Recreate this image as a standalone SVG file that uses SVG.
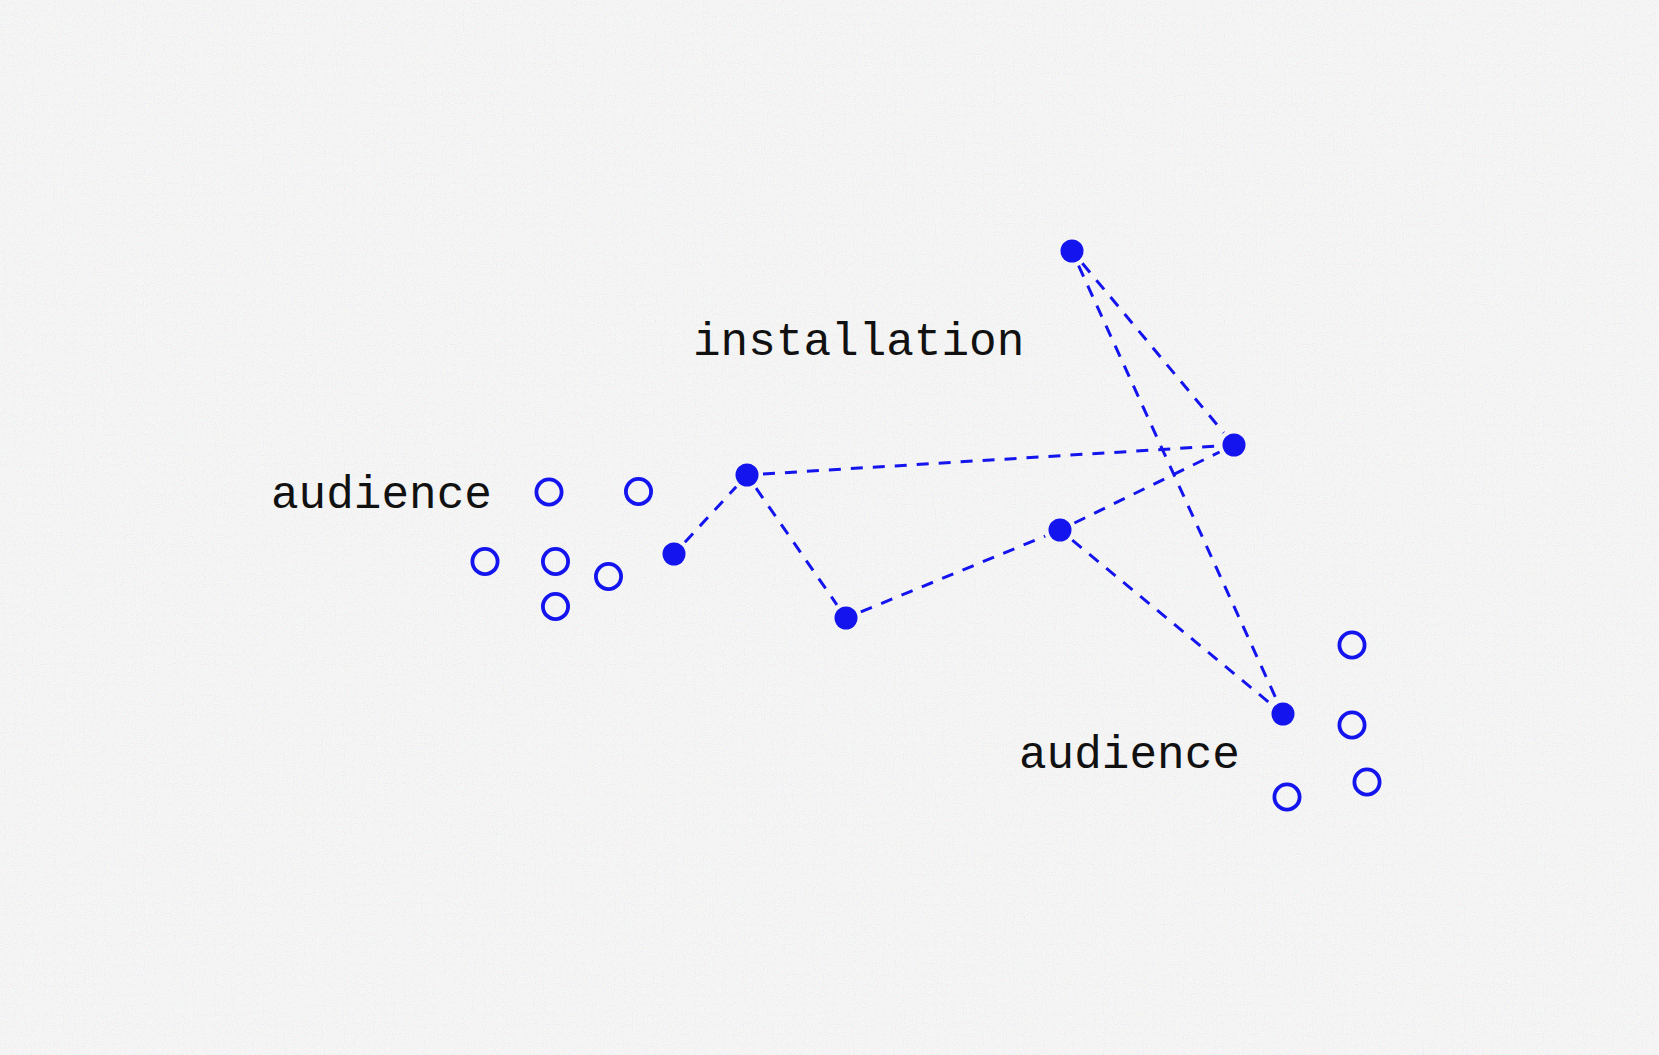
<svg xmlns="http://www.w3.org/2000/svg" width="1659" height="1055" viewBox="0 0 1659 1055">
  <style>
    .bg { fill: #f2f2f2; }
    .lbl { font-family: "Courier New", "Liberation Mono", monospace; font-size: 46px; fill: #111111; }
    .link { stroke: #1414ee; stroke-width: 3; stroke-dasharray: 12 10; fill: none; }
    .inst { fill: #1414ee; }
    .aud { fill: none; stroke: #1414ee; stroke-width: 3.8; }
  </style>
  <defs>
    <filter id="noise" x="0" y="0" width="100%" height="100%">
      <feTurbulence type="fractalNoise" baseFrequency="0.9" numOctaves="1" seed="3" result="t"/>
      <feColorMatrix in="t" type="matrix" values="1 0 0 0 0.45  0 1 0 0 0.45  0 0 1 0 0.45  0 0 0 0 0.35"/>
    </filter>
  </defs>
  <rect class="bg" x="0" y="0" width="1659" height="1055"/>
  <rect x="0" y="0" width="1659" height="1055" filter="url(#noise)"/>

  <g id="connectors">
    <line class="link" x1="684.9" y1="542.3" x2="736.2" y2="486.7"/>
    <line class="link" x1="756.1" y1="488.2" x2="836.9" y2="604.8"/>
    <line class="link" x1="763" y1="474" x2="1218" y2="446"/>
    <line class="link" x1="860.8" y1="611.9" x2="1045.2" y2="536.1"/>
    <line class="link" x1="1074.4" y1="523" x2="1219.6" y2="452"/>
    <line class="link" x1="1072.3" y1="540.2" x2="1270.7" y2="703.8"/>
    <line class="link" x1="1082.3" y1="263.3" x2="1223.7" y2="432.7"/>
    <line class="link" x1="1078.6" y1="265.6" x2="1276.4" y2="699.4"/>
  </g>

  <g id="label-installation"><text class="lbl" x="693" y="355">installation</text></g>
  <g id="label-audience-left"><text class="lbl" x="271" y="508">audience</text></g>
  <g id="label-audience-right"><text class="lbl" x="1019" y="768">audience</text></g>

  <g id="installation-nodes">
    <circle id="inst-top" class="inst" cx="1072" cy="251" r="11.5"/>
    <circle id="inst-right" class="inst" cx="1234" cy="445" r="11.5"/>
    <circle id="inst-a" class="inst" cx="674" cy="554" r="11.5"/>
    <circle id="inst-b" class="inst" cx="747" cy="475" r="11.5"/>
    <circle id="inst-c" class="inst" cx="846" cy="618" r="11.5"/>
    <circle id="inst-d" class="inst" cx="1060" cy="530" r="11.5"/>
    <circle id="inst-e" class="inst" cx="1283" cy="714" r="11.5"/>
  </g>

  <g id="audience-left">
    <circle id="aud-l1" class="aud" cx="549" cy="492" r="12.6"/>
    <circle id="aud-l2" class="aud" cx="638.5" cy="491.5" r="12.6"/>
    <circle id="aud-l3" class="aud" cx="485" cy="561.5" r="12.6"/>
    <circle id="aud-l4" class="aud" cx="555.5" cy="561.5" r="12.6"/>
    <circle id="aud-l5" class="aud" cx="608.5" cy="576.5" r="12.6"/>
    <circle id="aud-l6" class="aud" cx="555.5" cy="606.5" r="12.6"/>
  </g>

  <g id="audience-right">
    <circle id="aud-r1" class="aud" cx="1352" cy="645" r="12.6"/>
    <circle id="aud-r2" class="aud" cx="1352" cy="725" r="12.6"/>
    <circle id="aud-r3" class="aud" cx="1367" cy="782" r="12.6"/>
    <circle id="aud-r4" class="aud" cx="1287" cy="797" r="12.6"/>
  </g>
</svg>
